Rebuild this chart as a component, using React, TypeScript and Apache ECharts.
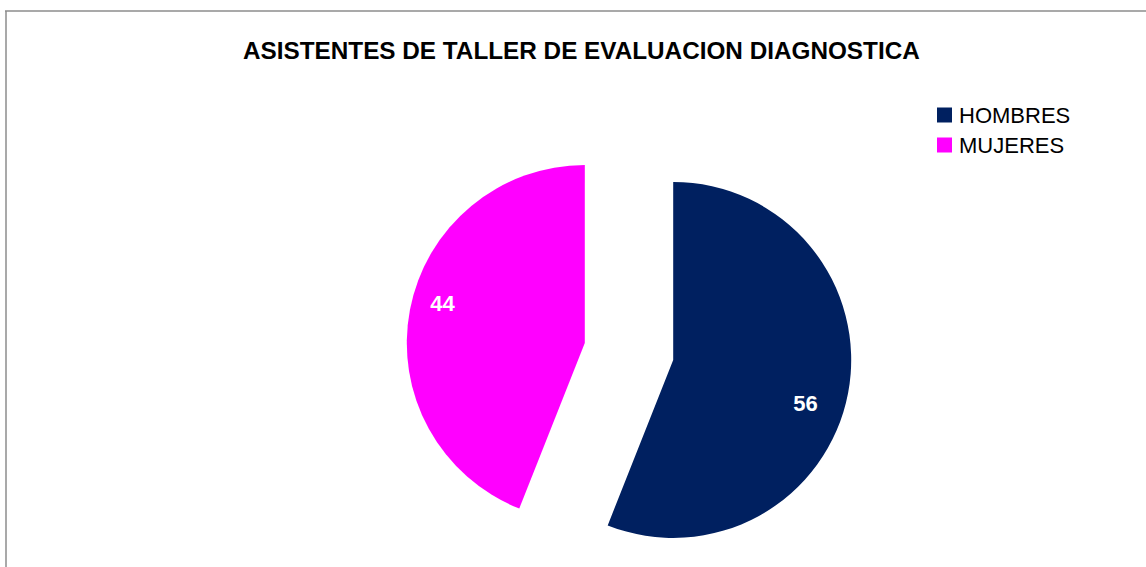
import React, { useEffect, useRef } from "react";
import * as echarts from "echarts";

const title = "ASISTENTES DE TALLER DE EVALUACION DIAGNOSTICA";
const categories = ["HOMBRES", "MUJERES"];
const values = [56, 44];
const colors = ["#002060", "#FF00FF"];

export default function App() {
  const ref = useRef<HTMLDivElement>(null);
  useEffect(() => {
    document.body.style.margin = "0";
    const chart = echarts.init(ref.current!, null, { renderer: "svg" });
    const labelShift = [
      { dx: 42, dy: 26 },
      { dx: -52, dy: -22 },
    ];
    chart.setOption({
      animation: false,
      backgroundColor: "#ffffff",
      title: {
        text: title,
        left: 243,
        top: 38,
        padding: 0,
        textStyle: {
          fontFamily: "Liberation Sans",
          fontWeight: "bold",
          fontSize: 24.3,
          color: "#000000",
        },
      },
      legend: {
        orient: "vertical",
        left: 937,
        top: 104,
        padding: 0,
        itemWidth: 15,
        itemHeight: 15,
        itemGap: 8,
        icon: "rect",
        selectedMode: false,
        data: categories,
        textStyle: {
          fontFamily: "Liberation Sans",
          fontSize: 22,
          color: "#000000",
          padding: [0, 0, 0, 2],
        },
      },
      graphic: [
        {
          type: "line",
          shape: { x1: 5, y1: 11, x2: 1146, y2: 11 },
          style: { stroke: "#8c8c8c", lineWidth: 1.5 },
        },
        {
          type: "line",
          shape: { x1: 6, y1: 11, x2: 6, y2: 567 },
          style: { stroke: "#8c8c8c", lineWidth: 1.5 },
        },
      ],
      series: [
        {
          type: "pie",
          center: [629, 351.5],
          radius: 178,
          startAngle: 90,
          clockwise: true,
          selectedMode: "multiple",
          selectedOffset: 45,
          emphasis: { disabled: true },
          label: {
            show: true,
            position: "inside",
            formatter: "{c}",
            color: "#ffffff",
            fontFamily: "Liberation Sans",
            fontWeight: "bold",
            fontSize: 22,
          },
          labelLine: { show: false },
          labelLayout: (params: any) => labelShift[params.dataIndex],
          data: categories.map((name, i) => ({
            name,
            value: values[i],
            selected: true,
            itemStyle: { color: colors[i] },
          })),
        },
      ],
    });
    return () => chart.dispose();
  }, []);
  return <div ref={ref} style={{ width: 1146, height: 567 }} />;
}
